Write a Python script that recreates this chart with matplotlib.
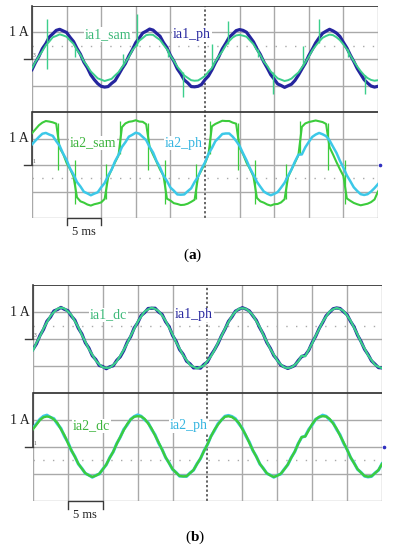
import matplotlib
matplotlib.use("Agg")
import matplotlib.pyplot as plt
import numpy as np

plt.rcParams['font.family'] = 'Liberation Serif'
plt.rcParams['mathtext.fontset'] = 'custom'
plt.rcParams['mathtext.rm'] = 'Liberation Serif'
plt.rcParams['mathtext.bf'] = 'Liberation Serif:bold'

# scope time base: one reading every 0.1 div (5 ms / div), 10 div wide
t = np.round(np.arange(101) * 0.1, 1)

# ---- panel (a), channel 1, values in div (1 A / div) ----
ia1_ph_a = [-0.40, -0.13, 0.10, 0.39, 0.58, 0.83, 0.95, 1.08, 1.12, 1.06, 1.00, 0.82, 0.66, 0.40, 0.18, -0.12, -0.33, -0.60, -0.78, -0.93, -1.03, -1.06, -1.04, -0.92, -0.82, -0.60,
            -0.37, -0.17, 0.12, 0.35, 0.62, 0.79, 0.98, 1.05, 1.13, 1.09, 0.97, 0.86, 0.62, 0.43, 0.14, -0.08, -0.37, -0.56, -0.79, -0.90, -1.04, -1.05, -1.03, -0.96, -0.78, -0.64,
            -0.41, -0.14, 0.09, 0.38, 0.59, 0.82, 0.94, 1.07, 1.11, 1.08, 1.01, 0.83, 0.65, 0.39, 0.17, -0.11, -0.34, -0.59, -0.76, -0.94, -1.00, -1.07, -1.01, -0.95, -0.81, -0.61,
            -0.38, -0.16, 0.13, 0.36, 0.61, 0.80, 0.97, 1.05, 1.12, 1.06, 0.98, 0.85, 0.63, 0.42, 0.15, -0.09, -0.36, -0.57, -0.78, -0.91, -1.02, -1.06, -1.03]
ia1_sam_a = [-0.35, -0.11, 0.10, 0.30, 0.52, 0.66, 0.82, 0.87, 0.93, 0.89, 0.84, 0.70, 0.57, 0.35, 0.16, -0.09, -0.27, -0.47, -0.60, -0.73, -0.78, -0.83, -0.79, -0.75, -0.62, -0.50,
             -0.31, -0.13, 0.08, 0.33, 0.49, 0.69, 0.79, 0.90, 0.92, 0.91, 0.81, 0.72, 0.54, 0.37, 0.13, -0.07, -0.29, -0.45, -0.62, -0.71, -0.80, -0.82, -0.81, -0.73, -0.64, -0.48,
             -0.34, -0.10, 0.11, 0.29, 0.51, 0.68, 0.81, 0.89, 0.91, 0.88, 0.84, 0.70, 0.56, 0.34, 0.15, -0.10, -0.26, -0.47, -0.60, -0.73, -0.78, -0.83, -0.80, -0.74, -0.62, -0.51,
             -0.32, -0.13, 0.09, 0.32, 0.50, 0.66, 0.80, 0.87, 0.92, 0.90, 0.82, 0.71, 0.55, 0.37, 0.14, -0.08, -0.28, -0.46, -0.61, -0.72, -0.79, -0.82, -0.80]
sam1_spk_t = [0.43, 1.24, 2.63, 3.03, 3.93, 4.36, 5.20, 5.66, 6.53, 6.97, 7.83, 8.29, 9.13, 9.62]
sam1_spk_lo = [-0.37, 0.07, -0.27, 0.50, 0.07, -1.42, -0.30, 0.55, 0.07, -1.31, -0.27, 0.60, 0.07, -1.31]
sam1_spk_hi = [1.50, 0.45, 0.19, 1.68, 0.37, -0.50, 0.56, 1.42, 0.37, -0.50, 0.49, 1.50, 0.37, -0.60]

# ---- panel (a), channel 2 ----
ia2_ph_a = [0.78, 0.92, 1.06, 1.18, 1.21, 1.15, 1.10, 0.90, 0.72, 0.43, 0.19, -0.13, -0.36, -0.64, -0.81, -1.01, -1.07, -1.14, -1.08, -1.03, -0.84, -0.68, -0.40, -0.18, 0.14, 0.38,
            0.68, 0.86, 1.07, 1.14, 1.22, 1.18, 1.06, 0.94, 0.68, 0.47, 0.15, -0.09, -0.40, -0.60, -0.85, -0.97, -1.11, -1.12, -1.11, -0.99, -0.88, -0.64, -0.44, -0.14, 0.10, 0.42,
            0.64, 0.90, 1.03, 1.17, 1.19, 1.19, 1.07, 0.91, 0.72, 0.44, 0.18, -0.12, -0.37, -0.63, -0.82, -1.00, -1.08, -1.14, -1.09, -1.02, -0.85, -0.67, -0.41, -0.17, 0.13, 0.39,
            0.40, 0.67, 0.87, 1.06, 1.15, 1.21, 1.16, 1.09, 0.93, 0.69, 0.46, 0.16, -0.10, -0.39, -0.61, -0.84, -0.98, -1.10, -1.13, -1.10, -1.00, -0.87, -0.72]
ia2_sam_a = [1.20, 1.35, 1.50, 1.60, 1.66, 1.64, 1.61, 1.56, 0.64, 0.42, 0.08, -0.15, -0.44, -1.22, -1.37, -1.42, -1.49, -1.53, -1.48, -1.45, -1.41, -1.28, -0.47, -0.17, 0.10, 0.36,
             1.43, 1.57, 1.63, 1.65, 1.69, 1.64, 1.63, 1.54, 0.68, 0.39, 0.12, -0.17, -0.40, -1.27, -1.34, -1.44, -1.47, -1.51, -1.50, -1.46, -1.39, -1.31, -0.44, -0.19, 0.06, 0.39,
             1.46, 1.55, 1.61, 1.67, 1.66, 1.66, 1.60, 1.56, 0.65, 0.41, 0.09, -0.15, -0.43, -1.24, -1.37, -1.42, -1.49, -1.53, -1.48, -1.47, -1.41, -1.29, -0.46, -0.17, 0.09, 0.37,
             1.44, 1.57, 1.62, 1.65, 1.68, 1.65, 1.62, 1.55, 0.67, 0.40, 0.11, -0.16, -0.41, -1.26, -1.35, -1.43, -1.48, -1.52, -1.49, -1.46, -1.40, -1.30, -1.00]
sam2_spk_t = [0.75, 3.35, 5.95, 8.55, 1.25, 3.85, 6.45, 9.05, 2.13, 4.73, 7.33, 2.55, 5.15, 7.75]
sam2_spk_lo = [-0.19, -0.19, -0.19, -0.19, -1.48, -1.48, -1.48, -1.48, -1.30, -1.30, -1.30, 0.40, 0.40, 0.40]
sam2_spk_hi = [1.58, 1.58, 1.58, 1.58, 0.20, 0.20, 0.20, 0.20, 0.05, 0.05, 0.05, 1.66, 1.66, 1.66]

# ---- panel (b), channel 1 ----
ia1_ph_b = [-0.38, -0.18, 0.13, 0.35, 0.66, 0.81, 1.04, 1.09, 1.17, 1.10, 1.05, 0.85, 0.70, 0.40, 0.19, -0.14, -0.33, -0.62, -0.76, -0.98, -1.02, -1.10, -1.03, -0.99, -0.79, -0.66,
            -0.43, -0.12, 0.09, 0.41, 0.60, 0.87, 0.98, 1.13, 1.14, 1.14, 1.00, 0.91, 0.64, 0.46, 0.13, -0.08, -0.39, -0.56, -0.82, -0.92, -1.07, -1.06, -1.08, -0.94, -0.85, -0.60,
            -0.40, -0.17, 0.12, 0.36, 0.65, 0.82, 1.03, 1.10, 1.16, 1.11, 1.04, 0.86, 0.69, 0.41, 0.18, -0.13, -0.34, -0.61, -0.77, -0.97, -1.03, -1.09, -1.04, -0.98, -0.80, -0.65,
            -0.60, -0.42, -0.13, 0.10, 0.39, 0.61, 0.86, 0.99, 1.12, 1.15, 1.13, 1.01, 0.90, 0.65, 0.45, 0.14, -0.09, -0.38, -0.57, -0.81, -0.93, -1.06, -1.07]
ia1_dc_b = [-0.42, -0.14, 0.10, 0.39, 0.62, 0.85, 1.00, 1.12, 1.16, 1.13, 1.02, 0.89, 0.66, 0.44, 0.15, -0.10, -0.37, -0.58, -0.80, -0.94, -1.05, -1.07, -1.06, -0.96, -0.83, -0.62,
            -0.40, -0.16, 0.12, 0.37, 0.64, 0.83, 1.02, 1.10, 1.16, 1.11, 1.04, 0.87, 0.68, 0.42, 0.17, -0.12, -0.35, -0.60, -0.78, -0.96, -1.03, -1.09, -1.04, -0.98, -0.81, -0.64,
            -0.41, -0.14, 0.11, 0.38, 0.62, 0.85, 1.01, 1.12, 1.14, 1.12, 1.02, 0.88, 0.66, 0.44, 0.15, -0.10, -0.37, -0.58, -0.80, -0.94, -1.05, -1.08, -1.05, -0.96, -0.83, -0.62,
            -0.64, -0.40, -0.16, 0.12, 0.37, 0.64, 0.83, 1.02, 1.10, 1.15, 1.11, 1.04, 0.87, 0.68, 0.42, 0.17, -0.12, -0.35, -0.60, -0.78, -0.96, -1.03, -1.08]

# ---- panel (b), channel 2 ----
ia2_ph_b = [0.70, 0.86, 1.03, 1.14, 1.18, 1.10, 1.05, 0.85, 0.69, 0.40, 0.18, -0.13, -0.35, -0.63, -0.79, -0.98, -1.04, -1.12, -1.05, -1.00, -0.82, -0.66, -0.39, -0.18, 0.13, 0.36,
            0.65, 0.82, 1.03, 1.13, 1.19, 1.14, 1.01, 0.90, 0.65, 0.45, 0.14, -0.09, -0.39, -0.59, -0.83, -0.94, -1.08, -1.08, -1.09, -0.96, -0.86, -0.62, -0.43, -0.14, 0.09, 0.40,
            0.61, 0.86, 1.00, 1.14, 1.17, 1.13, 1.05, 0.86, 0.69, 0.41, 0.18, -0.13, -0.35, -0.63, -0.79, -0.98, -1.04, -1.12, -1.05, -1.00, -0.82, -0.66, -0.39, -0.18, 0.13, 0.36,
            0.40, 0.65, 0.82, 1.03, 1.10, 1.18, 1.14, 1.01, 0.90, 0.65, 0.45, 0.14, -0.09, -0.39, -0.59, -0.83, -0.94, -1.08, -1.11, -1.09, -0.96, -0.86, -0.62]
ia2_dc_b = [0.66, 0.83, 1.00, 1.10, 1.13, 1.11, 1.02, 0.89, 0.66, 0.44, 0.15, -0.12, -0.36, -0.62, -0.80, -0.97, -1.05, -1.11, -1.06, -0.99, -0.83, -0.65, -0.40, -0.17, 0.12, 0.37,
            0.62, 0.85, 1.02, 1.12, 1.14, 1.13, 1.04, 0.87, 0.68, 0.42, 0.17, -0.10, -0.38, -0.60, -0.82, -0.95, -1.07, -1.09, -1.08, -0.97, -0.85, -0.63, -0.42, -0.15, 0.10, 0.39,
            0.64, 0.83, 1.00, 1.12, 1.14, 1.11, 1.02, 0.89, 0.66, 0.44, 0.15, -0.12, -0.36, -0.62, -0.80, -0.97, -1.05, -1.11, -1.06, -0.99, -0.83, -0.65, -0.40, -0.17, 0.12, 0.37,
            0.39, 0.62, 0.85, 1.02, 1.12, 1.14, 1.13, 1.04, 0.87, 0.68, 0.42, 0.17, -0.10, -0.38, -0.60, -0.82, -0.95, -1.07, -1.10, -1.08, -0.97, -0.85, -0.63]

C_BLUE = '#25259e'
C_TEAL = '#3ccf8c'
C_GREEN = '#3ccc3c'
C_CYAN = '#3cc8e8'
GRID = '#a9a9a9'
DARK = '#3a3a3a'

CH1 = 6.0   # ground level of channel 1 (div)
CH2 = 2.0   # ground level of channel 2 (div)


def scope_grid(ax):
    ax.set_xlim(0, 10)
    ax.set_ylim(0, 8)
    ax.set_axis_off()
    for x in range(0, 11):
        if x == 5:
            ax.axvline(x, color=DARK, lw=1.1, ls=(0, (1.5, 1.5)), zorder=1)
        else:
            ax.axvline(x, color=GRID, lw=1.0, zorder=1)
    for y in [0, 1, 2, 3, 5, 6, 7]:
        ax.axhline(y, color=GRID, lw=1.0, zorder=1)
    for y in [1.5, 6.5]:
        ax.axhline(y, color=GRID, lw=1.0, ls=(0, (1, 6)), zorder=1)
    ax.axhline(8, color=DARK, lw=1.3, zorder=1)
    ax.axhline(4, color=DARK, lw=1.3, zorder=1)
    for g in [CH1, CH2]:
        ax.plot([0, 0], [g, g + 2], color=DARK, lw=1.2, clip_on=False, zorder=2)
        ax.plot([-0.22, 0], [g, g], color=DARK, lw=1.0, clip_on=False, zorder=2)
        ax.text(-0.1, g + 1, '1 A', ha='right', va='center', fontsize=10, color='#222222')
        ax.text(0.02, g + 0.05, '3' if g == CH1 else '1', fontsize=4, color='#555555',
                ha='left', va='bottom')
    ax.plot([10.06], [CH2], marker='o', ms=1.6, color='#3030c0', clip_on=False)
    # 5 ms scale bracket
    ax.plot([1, 1, 2, 2], [-0.28, 0, 0, -0.28], color=DARK, lw=1.0, clip_on=False)
    ax.text(1.5, -0.3, '5 ms', ha='center', va='top', fontsize=9, color='#222222')


def label(ax, x, y, s, c):
    ax.text(x, y, s, fontsize=10, color=c, ha='left', va='center', zorder=6,
            bbox=dict(facecolor='white', edgecolor='none', pad=0.6))


fig = plt.figure(figsize=(3.96, 5.50), dpi=100)

# panel (a)
ax_a = fig.add_axes([0.0808, 0.6036, 0.8737, 0.3855])
scope_grid(ax_a)
ax_a.plot(t, np.array(ia1_ph_a) + CH1, color=C_BLUE, lw=2.3, zorder=3)
ax_a.plot(t, np.array(ia1_sam_a) + CH1, color=C_TEAL, lw=1.4, zorder=4)
ax_a.vlines(sam1_spk_t, np.array(sam1_spk_lo) + CH1, np.array(sam1_spk_hi) + CH1,
            color=C_TEAL, lw=1.0, zorder=4)
ax_a.plot(t, np.array(ia2_sam_a) + CH2, color=C_GREEN, lw=1.5, zorder=3)
ax_a.vlines(sam2_spk_t, np.array(sam2_spk_lo) + CH2, np.array(sam2_spk_hi) + CH2,
            color=C_GREEN, lw=0.9, zorder=3)
ax_a.plot(t, np.array(ia2_ph_a) + CH2, color=C_CYAN, lw=1.8, zorder=4)
label(ax_a, 1.53, 6.93, 'ia1_sam', '#3cb878')
label(ax_a, 4.08, 6.93, 'ia1_ph', '#2a2aa0')
label(ax_a, 1.10, 2.83, 'ia2_sam', '#3db43d')
label(ax_a, 3.84, 2.83, 'ia2_ph', '#35b5e0')
fig.text(0.487, 1 - 255 / 550, r'($\mathbf{a}$)', ha='center', va='center', fontsize=11)

# panel (b)
ax_b = fig.add_axes([0.0833, 0.0891, 0.8813, 0.3927])
scope_grid(ax_b)
ax_b.plot(t, np.array(ia1_ph_b) + CH1, color=C_BLUE, lw=2.3, zorder=3)
ax_b.plot(t, np.array(ia1_dc_b) + CH1, color=C_TEAL, lw=1.6, zorder=4)
ax_b.plot(t, np.array(ia2_ph_b) + CH2, color=C_CYAN, lw=2.2, zorder=3)
ax_b.plot(t, np.array(ia2_dc_b) + CH2, color=C_GREEN, lw=1.7, zorder=4)
label(ax_b, 1.63, 6.89, 'ia1_dc', '#3cb878')
label(ax_b, 4.07, 6.89, 'ia1_ph', '#2a2aa0')
label(ax_b, 1.15, 2.78, 'ia2_dc', '#3db43d')
label(ax_b, 3.93, 2.78, 'ia2_ph', '#35b5e0')
fig.text(0.492, 1 - 537 / 550, r'($\mathbf{b}$)', ha='center', va='center', fontsize=11)

fig.savefig('out.png', dpi=100)
